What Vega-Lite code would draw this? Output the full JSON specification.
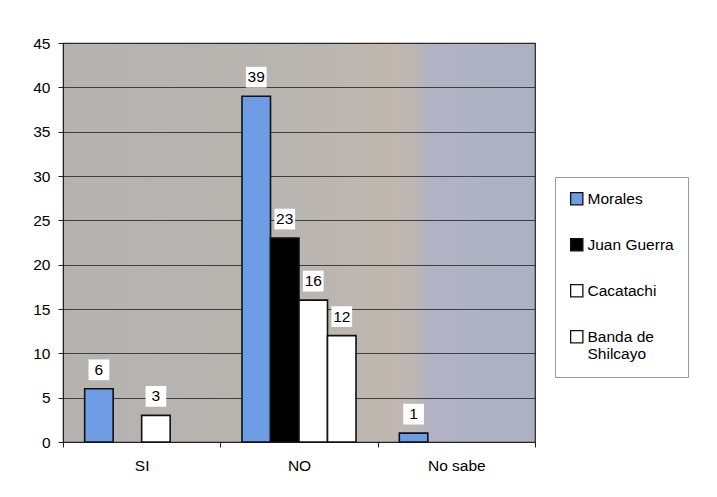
{
  "$schema": "https://vega.github.io/schema/vega-lite/v6.json",
  "width": 472,
  "height": 399,
  "autosize": {"type": "none"},
  "padding": {"left": 63, "top": 43, "right": 182, "bottom": 55},
  "background": "white",
  "config": {
    "font": "Liberation Sans",
    "view": {
      "stroke": "#222",
      "strokeWidth": 1.2,
      "fill": {
        "gradient": "linear",
        "x1": 0, "y1": 0, "x2": 1, "y2": 0,
        "stops": [
          {"offset": 0, "color": "#b5b2af"},
          {"offset": 0.5, "color": "#b9b5b1"},
          {"offset": 0.7, "color": "#c0b8b0"},
          {"offset": 0.745, "color": "#bdb7b4"},
          {"offset": 0.775, "color": "#b1b3c4"},
          {"offset": 1, "color": "#adb1c3"}
        ]
      }
    }
  },
  "data": {
    "values": [
      {"respuesta": "SI", "distrito": "Morales", "n": 6},
      {"respuesta": "SI", "distrito": "Cacatachi", "n": 3},
      {"respuesta": "NO", "distrito": "Morales", "n": 39},
      {"respuesta": "NO", "distrito": "Juan Guerra", "n": 23},
      {"respuesta": "NO", "distrito": "Cacatachi", "n": 16},
      {"respuesta": "NO", "distrito": "Banda de Shilcayo", "n": 12},
      {"respuesta": "No sabe", "distrito": "Morales", "n": 1}
    ]
  },
  "encoding": {
    "x": {
      "field": "respuesta",
      "type": "nominal",
      "sort": ["SI", "NO", "No sabe"],
      "scale": {"paddingInner": 0, "paddingOuter": 0},
      "axis": {
        "title": null,
        "labelAngle": 0,
        "labelFontSize": 15.5,
        "labelColor": "#000",
        "labelPadding": 11,
        "domainColor": "#222",
        "tickColor": "#222",
        "tickBand": "extent",
        "tickSize": 5
      }
    },
    "xOffset": {
      "field": "distrito",
      "type": "nominal",
      "scale": {
        "domain": ["Morales", "Juan Guerra", "Cacatachi", "Banda de Shilcayo"],
        "paddingInner": 0,
        "paddingOuter": 0.76
      }
    },
    "y": {
      "field": "n",
      "type": "quantitative",
      "scale": {"domain": [0, 45], "nice": false},
      "axis": {
        "title": null,
        "values": [0, 5, 10, 15, 20, 25, 30, 35, 40, 45],
        "labelFontSize": 15.5,
        "labelColor": "#000",
        "labelPadding": 8,
        "tickSize": 5,
        "tickColor": "#222",
        "domainColor": "#222",
        "gridColor": "#2a2a2a",
        "gridOpacity": 0.85,
        "gridWidth": 1
      }
    }
  },
  "layer": [
    {
      "mark": {"type": "bar", "stroke": "#111", "strokeWidth": 1.6},
      "encoding": {
        "color": {
          "field": "distrito",
          "type": "nominal",
          "scale": {
            "domain": ["Morales", "Juan Guerra", "Cacatachi", "Banda de Shilcayo"],
            "range": ["#6e9de6", "#000000", "#ffffff", "#ffffff"]
          },
          "legend": {
            "title": null,
            "orient": "none",
            "legendX": 492,
            "legendY": 134,
            "symbolType": "square",
            "symbolSize": 150,
            "symbolStrokeColor": "#111",
            "symbolStrokeWidth": 1.3,
            "labelFontSize": 15.5,
            "labelColor": "#000",
            "labelOffset": 3,
            "labelLimit": 200,
            "rowPadding": 28,
            "padding": 14,
            "strokeColor": "#999",
            "fillColor": "white",
            "labelExpr": "datum.label == 'Banda de Shilcayo' ? ['Banda de', 'Shilcayo'] : datum.label",
            "encode": {
              "symbols": {
                "update": {
                  "fill": [
                    {"test": "datum.value === 'Morales'", "value": "#a9abc6"},
                    {"scale": "color", "field": "value"}
                  ],
                  "stroke": {"value": "#111"},
                  "strokeWidth": {"value": 1.3},
                  "opacity": {"value": 1}
                }
              }
            }
          }
        }
      }
    },
    {
      "mark": {"type": "point", "shape": "square", "filled": true, "color": "white", "opacity": 1, "size": 430, "yOffset": -19},
      "encoding": {}
    },
    {
      "mark": {"type": "text", "fontSize": 15.5, "color": "#000", "baseline": "middle", "dy": -19},
      "encoding": {"text": {"field": "n", "type": "quantitative"}}
    }
  ]
}
